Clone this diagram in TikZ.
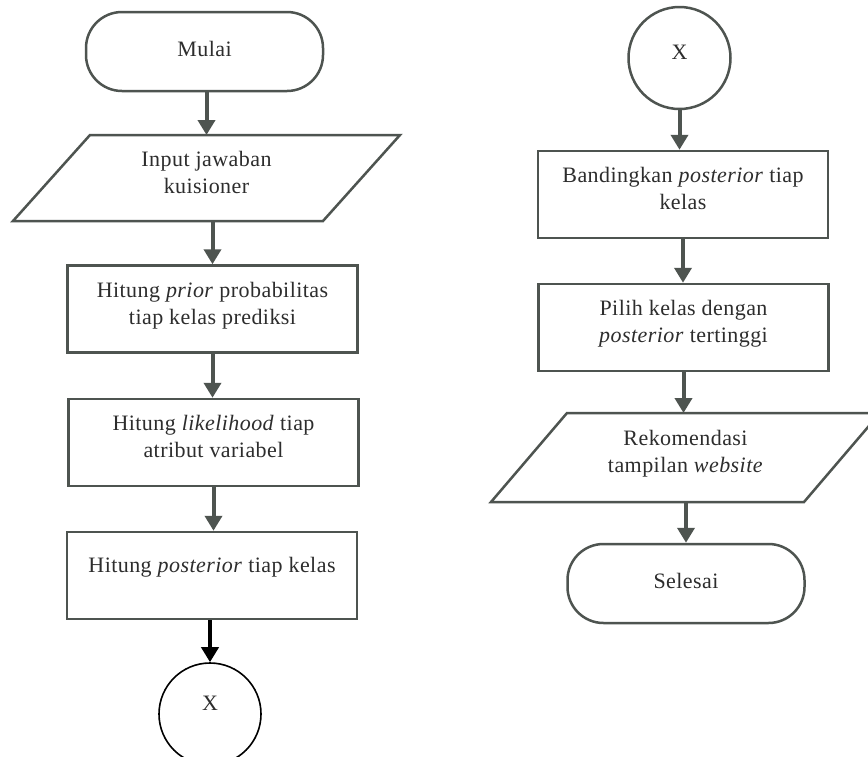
\documentclass[tikz,border=0pt]{standalone}
\usepackage{fontspec}
\setmainfont{Liberation Serif}[LetterSpace=2]
\usetikzlibrary{arrows.meta,calc}
\definecolor{linec}{RGB}{78,84,80}
\definecolor{txtc}{RGB}{45,45,45}
\begin{document}
\begin{tikzpicture}[x=1pt,y=-1pt,
  base/.style={draw=linec, line width=2.5pt, text=txtc, align=center,
    font=\fontsize{22}{27}\selectfont, inner sep=0pt},
  proc/.style={base, rectangle, minimum width=290pt, minimum height=87pt, text depth=12pt},
  term/.style={base, rectangle, rounded corners=36pt, minimum width=237pt, minimum height=79pt, text depth=5pt},
  para/.style={base, draw=none, rectangle, outer sep=0pt, minimum width=310pt, minimum height=86pt, text depth=12pt},
  paraline/.style={draw=linec, line width=2.5pt, line join=miter},
  conn/.style={base, circle, minimum size=102pt},
  arr/.style={draw=linec, line width=4pt, -{Triangle[width=17pt,length=15pt]}}]
\useasboundingbox (0,0) rectangle (868,756);
\clip (0,0) rectangle (868,756);
\fill[white] (0,0) rectangle (868,756);

% left column
\node[term] (start) at (204.5,51.5) {Mulai};
\node[para] (inp) at (206.5,178) {Input jawaban\\kuisioner};
\draw[paraline] ([xshift=-38.5pt]inp.south west) -- ([xshift=-38.5pt]inp.south east)
  -- ([xshift=38.5pt]inp.north east) -- ([xshift=38.5pt]inp.north west) -- cycle;
\node[proc] (p1) at (212.5,309) {Hitung \textit{prior} probabilitas\\tiap kelas prediksi};
\node[proc] (p2) at (213.5,442.5) {Hitung \textit{likelihood} tiap\\atribut variabel};
\node[proc, text depth=22pt] (p3) at (212,575.5) {Hitung \textit{posterior} tiap kelas};
\node[conn, draw=black, line width=1.6pt, text depth=22pt] (x1) at (210,714) {X};

% right column
\node[conn, text depth=12pt] (x2) at (679.5,58) {X};
\node[proc] (q1) at (683,194.5) {Bandingkan \textit{posterior} tiap\\kelas};
\node[proc] (q2) at (683.5,327.5) {Pilih kelas dengan\\\textit{posterior} tertinggi};
\node[para, minimum width=313pt, minimum height=89pt] (rek) at (685.5,457.5) {Rekomendasi\\tampilan \textit{website}};
\draw[paraline] ([xshift=-38pt]rek.south west) -- ([xshift=-38pt]rek.south east)
  -- ([xshift=38pt]rek.north east) -- ([xshift=38pt]rek.north west) -- cycle;
\node[term] (end) at (686,583.5) {Selesai};

% connectors
\draw[arr] (start.south -| inp.north) -- (inp.north);
\draw[arr] (inp.south -| p1.north) -- (p1.north);
\draw[arr] (p1.south) -- (p1.south |- p2.north);
\draw[arr] (p2.south) -- (p2.south |- p3.north);
\draw[arr, draw=black] (p3.south -| x1.north) -- (x1.north);
\draw[arr] (x2.south) -- (x2.south |- q1.north);
\draw[arr] (q1.south) -- (q1.south |- q2.north);
\draw[arr] (q2.south) -- (q2.south |- rek.north);
\draw[arr] (rek.south -| end.north) -- (end.north);
\end{tikzpicture}
\end{document}
